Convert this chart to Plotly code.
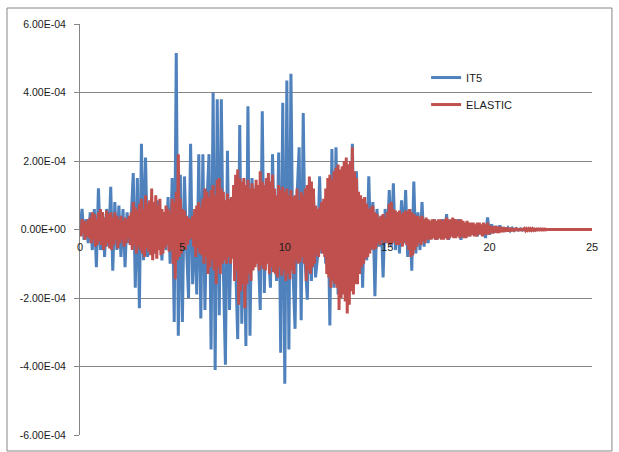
import numpy as np
import plotly.graph_objects as go

# Sampling intervals of the two records (seconds)
DT_IT5 = 0.1
DT_ELASTIC = 0.05
UNIT = 1e-4  # amplitudes below are listed in units of 1e-4

# IT5 response, one row per second (0 s .. 25 s)
IT5 = [
    0.0, 0.6, -0.3, 0.3, -0.4, 0.5, -0.6, 0.6, -1.1, 1.2,
    -0.6, 0.5, -0.8, 0.6, -0.5, 1.25, -1.2, 0.8, -0.6, 0.7,
    -0.8, 0.6, -1.1, 0.5, -0.4, 0.3, 1.65, -1.7, 1.5, -2.3,
    2.5, -0.9, 2.1, -0.8, 0.4, -0.6, 0.6, -0.7, 0.85, 0.3,
    -0.9, 0.5, -0.6, 0.95, -1.0, 1.5, -2.7, 5.15, -3.1, 1.6,
    -2.7, 1.55, -0.5, -2.0, 2.5, -1.6, 0.3, -1.9, 2.2, -2.6,
    2.2, -2.35, 0.8, 2.2, -3.5, 4.0, -4.1, 3.8, -2.5, 3.8,
    -1.2, -3.95, 2.3, -2.35, 0.3, 0.7, -1.0, -3.2, 3.05, -2.75,
    1.0, -3.4, 3.6, -3.1, 1.5, -1.0, 1.3, -0.6, -2.35, 3.45,
    -1.85, 1.2, -0.6, -1.7, 2.2, -0.5, -1.5, 2.25, -3.6, 3.7,
    -4.5, 4.35, -3.5, 4.55, -1.2, -2.9, 1.0, 2.4, -2.65, 3.4,
    -1.0, -2.05, 1.25, -1.5, 1.1, -1.4, -0.8, 1.55, -0.7, 0.6,
    -1.0, 0.9, -2.8, 2.35, -1.7, 2.4, -1.9, 1.5, -1.7, 1.8,
    -1.6, 1.9, -1.4, 2.5, -1.0, 1.7, -1.0, 0.9, -1.7, 0.8,
    -0.9, 1.55, -0.6, 0.8, -1.95, 0.6, -0.5, 0.4, -1.4, 0.6,
    -0.4, 1.15, -0.5, 1.35, -0.6, 0.5, -0.7, 0.85, -0.4, 1.15,
    -0.8, 0.6, -1.2, 1.4, -0.7, 0.5, -0.6, 0.8, -0.5, 0.3,
    -0.4, 0.25, -0.2, 0.3, -0.3, 0.2, -0.25, 0.3, -0.2, 0.45,
    -0.3, 0.2, -0.2, 0.3, -0.15, 0.3, -0.3, 0.2, -0.2, 0.15,
    -0.2, 0.15, -0.15, 0.1, -0.2, 0.15, -0.1, 0.15, -0.25, 0.35,
    -0.15, 0.15, -0.1, 0.1, -0.08, 0.12, -0.06, 0.06, -0.05, 0.05,
    -0.04, 0.04, -0.03, 0.03, -0.02, 0.02, -0.02, 0.02, -0.01, 0.01,
    -0.01, 0.01, -0.01, 0.01, 0, 0, 0, 0, 0, 0,
    0, 0, 0, 0, 0, 0, 0, 0, 0, 0,
    0, 0, 0, 0, 0, 0, 0, 0, 0, 0,
    0,
]

# ELASTIC response, one row per half second (0 s .. 25 s)
ELASTIC = [
    0.0, -0.2, 0.3, -0.1, 0.25, -0.3, 0.2, -0.2, 0.3, -0.25,
    0.35, -0.4, 0.5, -0.3, 0.45, -0.5, 0.3, -0.45, 0.5, -0.35,
    0.6, -0.45, 0.5, -0.6, 0.35, -0.5, 0.55, -0.4, 0.45, -0.55,
    0.5, -0.6, 0.35, -0.45, 0.5, -0.3, 0.4, -0.55, 0.3, -0.4,
    0.4, -0.3, 0.25, -0.5, 0.35, -0.4, 0.3, -0.25, 0.4, -0.45,
    0.5, -0.6, 0.8, -0.45, 0.65, -0.7, 0.55, -0.5, 0.75, -0.6,
    0.9, -0.7, 0.6, -0.8, 1.0, -0.55, 0.75, -0.65, 0.85, -0.75,
    1.2, -0.9, 0.8, -0.7, 1.0, -0.85, 0.7, -0.6, 0.9, -0.75,
    0.6, -0.7, 0.5, -0.55, 0.7, -0.45, 0.6, -0.65, 0.5, -0.6,
    0.9, -1.0, 0.8, -1.45, 1.1, -0.9, 2.2, -0.8, 0.9, -0.7,
    0.6, -0.5, 0.55, -0.6, 0.4, -0.45, 0.35, -0.3, 0.3, -0.25,
    0.4, -0.5, 0.6, -0.8, 0.7, -0.55, 0.8, -0.7, 0.65, -0.75,
    0.9, -1.0, 1.2, -0.8, 1.1, -1.3, 0.95, -1.1, 1.15, -0.9,
    1.3, -1.2, 1.0, -1.6, 1.45, -1.1, 1.5, -1.3, 1.2, -1.0,
    1.1, -0.9, 0.85, -1.0, 1.05, -0.8, 0.9, -1.0, 0.95, -0.85,
    1.3, -1.5, 1.6, -1.2, 1.75, -2.2, 1.5, -1.8, 1.4, -1.6,
    1.5, -2.3, 1.3, -1.6, 1.45, -1.3, 1.2, -1.5, 1.35, -1.2,
    1.2, -1.1, 1.45, -1.0, 1.3, -1.2, 1.7, -1.05, 1.4, -1.15,
    1.3, -1.2, 1.5, -1.0, 1.65, -1.3, 1.4, -1.1, 1.6, -1.25,
    1.2, -1.3, 1.0, -1.4, 1.3, -1.1, 1.15, -1.35, 1.25, -1.2,
    1.1, -1.5, 1.2, -1.3, 1.0, -1.45, 1.15, -1.2, 0.95, -1.3,
    1.0, -0.9, 1.2, -1.0, 0.85, -0.95, 1.1, -0.8, 1.0, -1.0,
    1.2, -1.5, 1.3, -1.2, 1.55, -1.3, 1.4, -1.1, 1.2, -1.0,
    0.7, -0.75, 0.6, -0.8, 0.65, -0.6, 0.8, -0.7, 0.9, -0.8,
    1.2, -1.3, 1.5, -1.4, 1.6, -1.7, 1.45, -1.5, 1.7, -1.6,
    1.8, -1.7, 1.9, -2.35, 1.75, -2.0, 1.85, -1.9, 2.0, -2.1,
    2.1, -2.45, 1.9, -2.2, 2.0, -1.8, 2.4, -1.9, 1.7, -1.6,
    1.5, -1.6, 1.1, -1.3, 1.0, -1.1, 0.9, -1.0, 0.95, -0.85,
    0.75, -0.8, 0.6, -0.7, 0.65, -0.55, 0.7, -0.6, 0.5, -0.55,
    0.45, -0.4, 0.35, -0.45, 0.4, -0.3, 0.45, -0.4, 0.35, -0.35,
    0.5, -0.4, 0.75, -0.45, 0.8, -0.4, 0.6, -0.35, 0.55, -0.45,
    0.5, -0.45, 0.55, -0.4, 0.45, -0.5, 0.5, -0.35, 0.55, -0.45,
    0.55, -0.6, 0.6, -0.8, 0.5, -0.75, 0.45, -0.6, 0.4, -0.5,
    0.4, -0.4, 0.35, -0.45, 0.4, -0.35, 0.3, -0.4, 0.35, -0.3,
    0.3, -0.3, 0.25, -0.3, 0.3, -0.25, 0.3, -0.3, 0.25, -0.3,
    0.3, -0.25, 0.3, -0.3, 0.25, -0.3, 0.3, -0.25, 0.35, -0.3,
    0.3, -0.25, 0.3, -0.2, 0.35, -0.25, 0.3, -0.25, 0.3, -0.2,
    0.25, -0.25, 0.3, -0.2, 0.25, -0.25, 0.2, -0.25, 0.25, -0.2,
    0.2, -0.2, 0.2, -0.15, 0.2, -0.2, 0.15, -0.2, 0.2, -0.15,
    0.2, -0.15, 0.15, -0.2, 0.2, -0.15, 0.15, -0.15, 0.2, -0.15,
    0.12, -0.1, 0.1, -0.12, 0.1, -0.08, 0.1, -0.1, 0.08, -0.1,
    0.08, -0.08, 0.07, -0.08, 0.06, -0.07, 0.06, -0.06, 0.05, -0.06,
    0.05, -0.05, 0.04, -0.05, 0.04, -0.04, 0.04, -0.03, 0.03, -0.04,
    0.03, -0.03, 0.03, -0.03, 0.02, -0.03, 0.02, -0.02, 0.02, -0.02,
    0.02, -0.02, 0.02, -0.02, 0.01, -0.02, 0.01, -0.01, 0.01, -0.01,
    0.01, -0.01, 0.01, -0.01, 0.01, -0.01, 0, 0, 0, 0,
    0, 0, 0, 0, 0, 0, 0, 0, 0, 0,
    0, 0, 0, 0, 0, 0, 0, 0, 0, 0,
    0, 0, 0, 0, 0, 0, 0, 0, 0, 0,
    0, 0, 0, 0, 0, 0, 0, 0, 0, 0,
    0,
]

SERIES_NAMES = ["IT5", "ELASTIC"]
SERIES_COLORS = ["#4F81BD", "#C0504D"]

Y_TICKS = [-6e-4, -4e-4, -2e-4, 0.0, 2e-4, 4e-4, 6e-4]
Y_TICK_LABELS = ["-6.00E-04", "-4.00E-04", "-2.00E-04", "0.00E+00",
                 "2.00E-04", "4.00E-04", "6.00E-04"]
X_TICKS = [0, 5, 10, 15, 20, 25]
X_TICK_LABELS = ["0", "5", "10", "15", "20", "25"]

GRID = "#868686"
FONT = "Liberation Sans"

t_it5 = np.arange(len(IT5)) * DT_IT5
t_el = np.arange(len(ELASTIC)) * DT_ELASTIC
y_it5 = np.array(IT5) * UNIT
y_el = np.array(ELASTIC) * UNIT

fig = go.Figure()
for i, (t, y) in enumerate([(t_it5, y_it5), (t_el, y_el)]):
    fig.add_trace(go.Scatter(
        x=t, y=y, mode="lines", name=SERIES_NAMES[i],
        legendgroup=SERIES_NAMES[i],
        line=dict(color=SERIES_COLORS[i], width=3),
        hoverinfo="skip",
    ))

fig.update_layout(
    width=619, height=452,
    margin=dict(l=80, r=27, t=24, b=17),
    paper_bgcolor="white", plot_bgcolor="white",
    font=dict(family=FONT, size=10.5, color="#1a1a1a"),
    showlegend=True,
    legend=dict(
        x=0.676, y=0.905, xanchor="left", yanchor="top",
        bgcolor="rgba(0,0,0,0)", borderwidth=0,
        font=dict(family=FONT, size=11, color="#1a1a1a"),
        tracegroupgap=8,
    ),
    xaxis=dict(
        range=[0, 25], tickvals=X_TICKS, ticktext=X_TICK_LABELS,
        showgrid=False, zeroline=False, showline=False, ticks="",
        anchor="free", position=0.5, ticklabelstandoff=9,
        tickfont=dict(family=FONT, size=11, color="#1a1a1a"),
    ),
    yaxis=dict(
        range=[-6e-4, 6e-4], tickvals=Y_TICKS, ticktext=Y_TICK_LABELS,
        showgrid=True, gridcolor=GRID, gridwidth=1,
        zeroline=True, zerolinecolor=GRID, zerolinewidth=1,
        showline=True, linecolor=GRID, linewidth=1,
        ticks="outside", ticklen=5, tickcolor=GRID, tickwidth=1,
        ticklabelstandoff=6,
        tickfont=dict(family=FONT, size=10.5, color="#1a1a1a"),
    ),
    shapes=[dict(
        type="rect", xref="paper", yref="paper",
        x0=-0.1426, x1=1.039, y0=-0.039, y1=1.0389,
        line=dict(color=GRID, width=1), layer="below",
    )],
)

fig.write_html("out.html")
